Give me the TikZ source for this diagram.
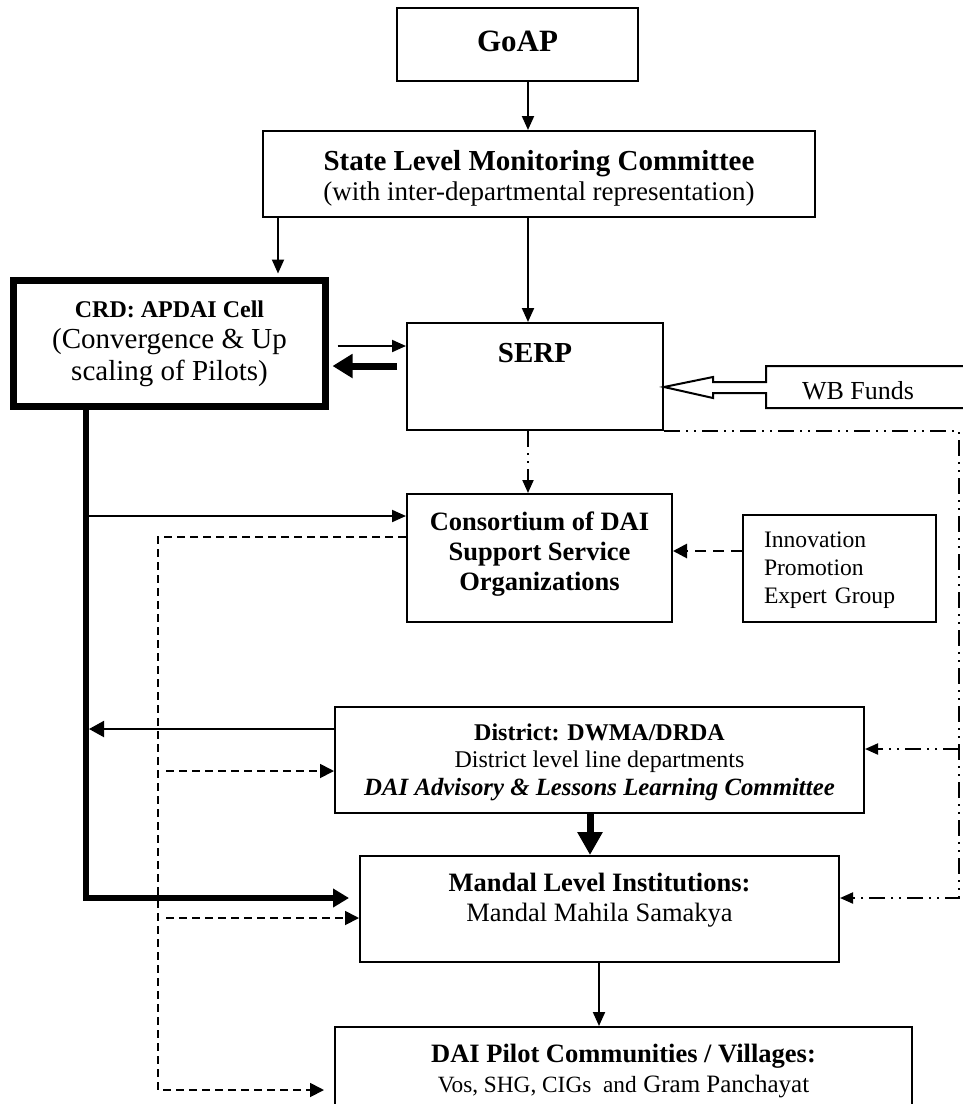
\documentclass[tikz,border=0pt]{standalone}
\usepackage{fontspec}
\setmainfont{Liberation Serif}
\usetikzlibrary{arrows.meta,calc}
\begin{document}
\begin{tikzpicture}[x=1pt,y=-1pt,
  box/.style={draw, line width=2pt, inner sep=0pt, align=center},
  arrthin/.style={line width=2pt, -{Triangle[length=14pt,width=12pt]}},
  dsh/.style={line width=1.8pt, dash pattern=on 8pt off 5pt, -{Triangle[length=14pt,width=14pt]}},
  dd/.style={line width=2pt, dash pattern=on 16pt off 6pt on 2pt off 6pt on 2pt off 6pt},
  ddtip/.style={-{Triangle[length=13pt,width=11pt]}}]
\useasboundingbox (0,0) rectangle (963,1104);
\clip (0,0) rectangle (963,1104);

% boxes
\node[box, minimum width=241pt, minimum height=73pt, text height=43pt, text depth=30pt,
  font=\fontsize{31}{34}\selectfont\bfseries] (goap) at (517.5,44.5) {GoAP};
\node[box, minimum width=552pt, minimum height=86pt, text height=69pt, text depth=17pt,
  font=\fontsize{29}{30}\selectfont] (slmc) at (539,174)
  {\textbf{State Level Monitoring Committee}\\{\fontsize{27}{30}\selectfont (with inter-departmental representation)}};
\node[box, line width=7pt, minimum width=312pt, minimum height=126pt, text height=99.5pt, text depth=26.5pt,
  font=\fontsize{29}{31.5}\selectfont] (crd) at (169.5,343.5)
  {{\fontsize{24}{31.5}\selectfont\bfseries CRD: APDAI Cell}\\(Convergence \& Up\\scaling of Pilots)};
\node[box, minimum width=256pt, minimum height=107pt, text height=39pt, text depth=68pt,
  font=\fontsize{29}{30}\selectfont\bfseries] (serp) at (535,376.5) {SERP};
\node[box, minimum width=265pt, minimum height=128pt, text height=96pt, text depth=32pt,
  font=\fontsize{26.5}{30}\selectfont\bfseries] (cons) at (539.5,558)
  {Consortium of DAI\\Support Service\\Organizations};
\node[draw, line width=2pt, inner xsep=21pt, inner ysep=0pt, text width=151pt, align=left,
  minimum height=107pt, text height=32pt, text depth=75pt,
  font=\fontsize{23.6}{28}\selectfont] (ipeg) at (839.5,568.5) {Innovation\\Promotion\\Expert Group};
\node[box, minimum width=529pt, minimum height=106pt, text height=88pt, text depth=18pt,
  font=\fontsize{24}{27.5}\selectfont] (dist) at (599.5,760)
  {\textbf{District: DWMA/DRDA}\\District level line departments\\{\fontsize{24.8}{27.5}\selectfont\bfseries\itshape DAI Advisory \& Lessons Learning Committee}};
\node[box, minimum width=479pt, minimum height=106pt, text height=65pt, text depth=41pt,
  font=\fontsize{26.5}{30}\selectfont] (mandal) at (599.5,909)
  {\textbf{Mandal Level Institutions:}\\Mandal Mahila Samakya};
\node[box, minimum width=577pt, minimum height=100pt, text height=65pt, text depth=35pt,
  font=\fontsize{26.5}{30}\selectfont] (dai) at (623.5,1077)
  {\textbf{DAI Pilot Communities / Villages:}\\{\fontsize{23.3}{30}\selectfont Vos, SHG, CIGs\ \ and} {\fontsize{25}{30}\selectfont Gram Panchayat}};

% WB Funds block arrow
\node[font=\fontsize{26}{30}\selectfont, anchor=base] (wb) at (858,399) {WB Funds};
\draw[line width=2pt, line join=miter] (966,366) -- (766,366) -- (766,382) -- (713,382) -- (713,377)
  -- (serp.east |- 0,387) -- (713,398) -- (713,393) -- (766,393) -- (766,408) -- (966,408);

% helper coordinates
\coordinate (ax) at (528,0);
\coordinate (cx) at (278,0);
\coordinate (lx) at (86,0);
\coordinate (dx) at (158,0);
\coordinate (rx) at (959,0);
\coordinate (tx) at (590,0);
\coordinate (mx) at (599,0);
\coordinate (y346) at (0,346);
\coordinate (y366) at (0,366);
\coordinate (y516) at (0,516);
\coordinate (y537) at (0,537);
\coordinate (y551) at (0,551);
\coordinate (y729) at (0,729);
\coordinate (y749) at (0,749);
\coordinate (y771) at (0,771);
\coordinate (y898) at (0,898);
\coordinate (y918) at (0,918);
\coordinate (y1090) at (0,1090);

% solid connectors
\draw[arrthin] (ax |- goap.south) -- (ax |- slmc.north);
\draw[arrthin, shorten >=3.5pt] (cx |- slmc.south) -- (cx |- crd.north);
\draw[arrthin] (ax |- slmc.south) -- (ax |- serp.north);
\draw[arrthin] ($(crd.east |- y346)+(8.5,0)$) -- (serp.west |- y346);
\draw[line width=7pt, -{Triangle[length=20pt,width=23pt]}] ($(serp.west |- y366)+(-9,0)$) -- ($(crd.east |- y366)+(3.5,0)$);
\draw[line width=6pt, line join=miter, -{Triangle[length=16pt,width=18pt]}]
  (lx |- crd.south) -- (lx |- y898) -- ($(mandal.west |- y898)+(-10,0)$);
\draw[arrthin] (lx |- y516) -- (cons.west |- y516);
\draw[line width=2pt, -{Triangle[length=15pt,width=16pt]}] (dist.west |- y729) -- ($(lx |- y729)+(3,0)$);
\draw[line width=7pt, -{Triangle[length=23pt,width=24pt]}] (tx |- dist.south) -- (tx |- mandal.north);
\draw[arrthin] (mx |- mandal.south) -- (mx |- dai.north);

% dashed connectors
\draw[dsh] (cons.west |- y537) -- (dx |- y537) -- (dx |- y1090) -- ($(dai.west |- y1090)+(-10,0)$);
\draw[dsh] ($(dx |- y771)+(8,0)$) -- (dist.west |- y771);
\draw[dsh] ($(dx |- y918)+(8,0)$) -- (mandal.west |- y918);
\draw[line width=2.8pt, dash pattern=on 11pt off 7pt, -{Triangle[length=14pt,width=14pt]}]
  (ipeg.west |- y551) -- (cons.east |- y551);

% dash-dot connectors
\draw[dd, ddtip] (ax |- serp.south) -- (ax |- cons.north);
\draw[dd, ddtip] (serp.south east) -- (rx |- serp.south east) -- (rx |- y898) -- (mandal.east |- y898);
\draw[dd, ddtip] (rx |- y749) -- (dist.east |- y749);
\end{tikzpicture}
\end{document}
